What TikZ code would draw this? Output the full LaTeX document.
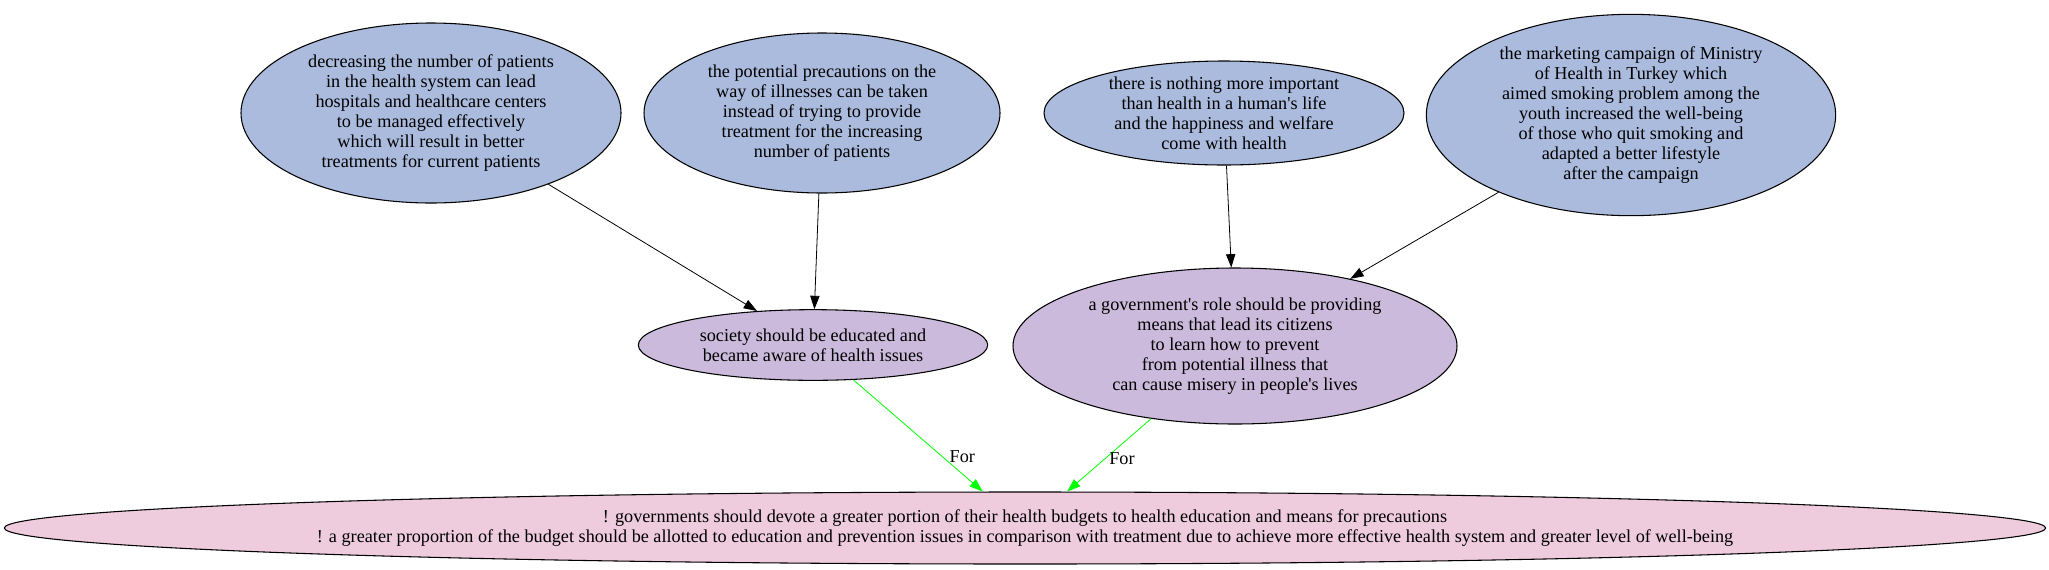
\documentclass[tikz,border=0pt]{standalone}
\usepackage{fontspec}
\setmainfont{Liberation Serif}
\usepackage{tikz}
\usepackage{xcolor}
\usetikzlibrary{shapes.geometric,arrows.meta}
\definecolor{premc}{HTML}{AABBDD}
\definecolor{claimc}{HTML}{CBBADB}
\definecolor{thesisc}{HTML}{EECBDD}
\definecolor{forc}{HTML}{00FF00}
\tikzset{
  arg/.style={ellipse, draw=black, line width=0.8pt, inner sep=0pt, align=center, font=\fontsize{13.65}{15}\selectfont},
  prem/.style={arg, fill=premc},
  claim/.style={arg, fill=claimc},
  thesis/.style={arg, fill=thesisc},
  link/.style={draw=black, line width=0.6pt, -{Triangle[length=10pt,width=7pt]}},
  pro/.style={draw=forc, line width=0.6pt, -{Triangle[length=10pt,width=7pt]}},
  lbl/.style={font=\fontsize{13.65}{15}\selectfont, inner sep=2pt},
}

\begin{document}
\begin{tikzpicture}[x=0.75pt, y=-0.75pt]
\useasboundingbox (0,0) rectangle (2049,569);
\node[prem, minimum width=285pt, minimum height=135pt] (decr) at (431.000,113.000) {decreasing the number of patients\\in the health system can lead\\hospitals and healthcare centers\\to be managed effectively\\which will result in better\\treatments for current patients};
\node[prem, minimum width=267pt, minimum height=120pt] (prec) at (822.000,113.000) {the potential precautions on the\\way of illnesses can be taken\\instead of trying to provide\\treatment for the increasing\\number of patients};
\node[prem, minimum width=270pt, minimum height=78pt] (nothing) at (1224.000,113.000) {there is nothing more important\\than health in a human\textquotesingle s life\\and the happiness and welfare\\come with health};
\node[prem, minimum width=307pt, minimum height=151pt] (campaign) at (1631.000,115.000) {the marketing campaign of Ministry\\of Health in Turkey which\\aimed smoking problem among the\\youth increased the well-being\\of those who quit smoking and\\adapted a better lifestyle\\after the campaign};
\node[claim, minimum width=262pt, minimum height=53pt] (society) at (813.000,345.000) {society should be educated and\\became aware of health issues};
\node[claim, minimum width=333pt, minimum height=117pt] (govrole) at (1235.000,346.000) {a government\textquotesingle s role should be providing\\means that lead its citizens\\to learn how to prevent\\from potential illness that\\can cause misery in people\textquotesingle s lives};
\node[thesis, minimum width=1531pt, minimum height=54pt] (budget) at (1025.000,528.000) {! governments should devote a greater portion of their health budgets to health education and means for precautions\\! a greater proportion of the budget should be allotted to education and prevention issues in comparison with treatment due to achieve more effective health system and greater level of well-being};
\draw[link] (decr) -- (society);
\draw[link] (prec) -- (society);
\draw[link] (nothing) -- (govrole);
\draw[link] (campaign) -- (govrole);
\draw[pro] (society) -- node[lbl, pos=0.69, right=3pt] {For} (budget);
\draw[pro] (govrole) -- node[lbl, pos=0.55, right=1pt] {For} (budget);
\end{tikzpicture}
\end{document}
